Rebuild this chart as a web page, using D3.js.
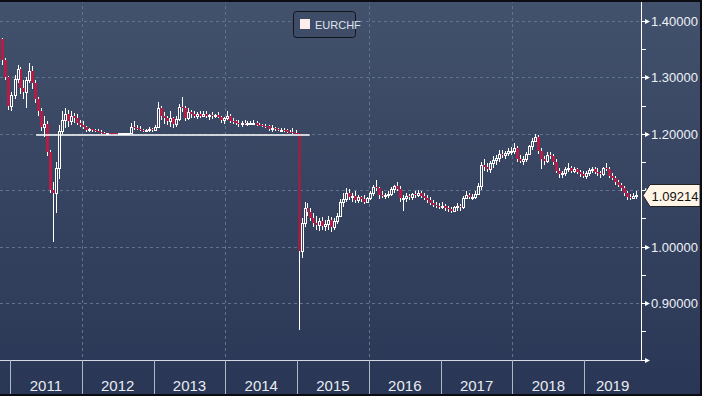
<!DOCTYPE html>
<html>
<head>
<meta charset="utf-8">
<script src="https://cdn.jsdelivr.net/npm/d3@7"></script>
<style>
  body { margin: 0; background: #2b3756; }
  svg { display: block; }
</style>
</head>
<body>
<div id="chart"></div>
<script>
var width = 702
var height = 396
var plotRight = 641
var plotBottom = 360

// half-month candles from 16 Nov 2010; open of each one is the previous close
var firstOpen = 1.368
var highs = [
  1.370, 1.335, 1.302, 1.275, 1.305, 1.322, 1.318, 1.295, 1.300, 1.325, 1.320, 1.295, 1.265, 1.245, 1.232, 1.222,
  1.172, 1.115, 1.150, 1.215, 1.240, 1.245, 1.243, 1.240, 1.237, 1.236, 1.225,
  1.222, 1.214, 1.210, 1.209, 1.208, 1.209, 1.206, 1.203, 1.202, 1.202, 1.2015, 1.2012, 1.2012, 1.2012, 1.2015, 1.2020,
  1.220, 1.222, 1.215, 1.213, 1.209, 1.208, 1.212, 1.211,
  1.215, 1.256, 1.250, 1.238, 1.232, 1.240, 1.230, 1.232, 1.252, 1.266, 1.250, 1.245, 1.242, 1.240, 1.238, 1.240,
  1.240, 1.240, 1.235, 1.238, 1.236, 1.238, 1.232, 1.230,
  1.240, 1.235, 1.228, 1.225, 1.225, 1.222, 1.225, 1.222, 1.222, 1.224, 1.223, 1.220, 1.218, 1.217, 1.216, 1.215,
  1.212, 1.210, 1.210, 1.211, 1.209, 1.206, 1.210, 1.206,
  1.2012, 1.050, 1.080, 1.078, 1.068, 1.060, 1.055, 1.050, 1.052, 1.048, 1.055, 1.052, 1.050, 1.060, 1.085, 1.095,
  1.104, 1.102, 1.096, 1.098, 1.092, 1.090, 1.092, 1.088,
  1.098, 1.110, 1.118, 1.106, 1.098, 1.096, 1.098, 1.106, 1.110, 1.114, 1.108, 1.092, 1.095, 1.094, 1.096, 1.098,
  1.100, 1.098, 1.096, 1.092, 1.088, 1.082, 1.080, 1.078,
  1.080, 1.076, 1.072, 1.070, 1.072, 1.078, 1.076, 1.090, 1.098, 1.096, 1.094, 1.098, 1.112, 1.150, 1.156, 1.148,
  1.152, 1.160, 1.162, 1.172, 1.172, 1.170, 1.175, 1.176,
  1.183, 1.178, 1.162, 1.160, 1.168, 1.180, 1.192, 1.200, 1.198, 1.175, 1.160, 1.168, 1.168, 1.164, 1.155, 1.140,
  1.135, 1.142, 1.148, 1.143, 1.142, 1.140, 1.136, 1.134,
  1.134, 1.140, 1.142, 1.142, 1.140, 1.135, 1.142, 1.148, 1.142, 1.130, 1.125, 1.118, 1.112, 1.108, 1.098, 1.094,
  1.096, 1.098
]
var lows = [
  1.322, 1.295, 1.242, 1.240, 1.262, 1.290, 1.270, 1.262, 1.245, 1.290, 1.280, 1.255, 1.232, 1.205, 1.195, 1.160,
  1.095, 1.008, 1.060, 1.120, 1.200, 1.210, 1.212, 1.215, 1.220, 1.215, 1.212,
  1.208, 1.203, 1.204, 1.203, 1.203, 1.203, 1.200, 1.200, 1.200, 1.200, 1.2000, 1.2002, 1.2005, 1.2005, 1.2008, 1.2008,
  1.2010, 1.207, 1.206, 1.205, 1.203, 1.203, 1.204, 1.204,
  1.205, 1.210, 1.225, 1.218, 1.215, 1.212, 1.210, 1.212, 1.222, 1.238, 1.222, 1.224, 1.228, 1.228, 1.226, 1.228,
  1.230, 1.228, 1.224, 1.227, 1.228, 1.228, 1.219, 1.218,
  1.225, 1.220, 1.218, 1.216, 1.212, 1.212, 1.215, 1.213, 1.215, 1.217, 1.214, 1.213, 1.212, 1.211, 1.205, 1.204,
  1.205, 1.205, 1.204, 1.203, 1.2015, 1.2008, 1.2005, 1.2005,
  0.852, 0.980, 1.035, 1.055, 1.045, 1.035, 1.030, 1.028, 1.030, 1.028, 1.030, 1.026, 1.030, 1.040, 1.052, 1.070,
  1.080, 1.082, 1.080, 1.078, 1.078, 1.080, 1.076, 1.078,
  1.082, 1.090, 1.098, 1.085, 1.086, 1.084, 1.086, 1.090, 1.096, 1.098, 1.080, 1.064, 1.080, 1.082, 1.082, 1.086,
  1.088, 1.086, 1.082, 1.078, 1.074, 1.070, 1.068, 1.066,
  1.066, 1.064, 1.062, 1.060, 1.062, 1.064, 1.064, 1.066, 1.084, 1.084, 1.082, 1.084, 1.092, 1.100, 1.135, 1.132,
  1.130, 1.140, 1.145, 1.150, 1.158, 1.155, 1.160, 1.162,
  1.165, 1.150, 1.148, 1.145, 1.150, 1.162, 1.172, 1.185, 1.165, 1.138, 1.145, 1.148, 1.155, 1.145, 1.130, 1.121,
  1.122, 1.125, 1.132, 1.130, 1.130, 1.128, 1.124, 1.122,
  1.120, 1.126, 1.130, 1.128, 1.126, 1.122, 1.126, 1.135, 1.122, 1.118, 1.110, 1.105, 1.098, 1.090, 1.082, 1.082,
  1.084, 1.085
]
var closes = [
  1.330, 1.300, 1.250, 1.268, 1.298, 1.315, 1.282, 1.275, 1.295, 1.312, 1.290, 1.262, 1.240, 1.212, 1.218, 1.168,
  1.100, 1.095, 1.140, 1.205, 1.225, 1.235, 1.222, 1.232, 1.228, 1.220, 1.215,
  1.212, 1.207, 1.208, 1.206, 1.205, 1.204, 1.202, 1.201, 1.2012, 1.2010, 1.2008, 1.2006, 1.2008, 1.2010, 1.2012, 1.2015,
  1.212, 1.210, 1.208, 1.207, 1.205, 1.206, 1.209, 1.207,
  1.212, 1.245, 1.232, 1.228, 1.222, 1.228, 1.218, 1.226, 1.248, 1.245, 1.228, 1.238, 1.235, 1.232, 1.236, 1.232,
  1.236, 1.231, 1.233, 1.232, 1.234, 1.230, 1.224, 1.228,
  1.232, 1.223, 1.222, 1.220, 1.217, 1.220, 1.218, 1.219, 1.220, 1.220, 1.216, 1.215, 1.214, 1.213, 1.208, 1.210,
  1.208, 1.207, 1.207, 1.206, 1.203, 1.2025, 1.2022, 1.2010,
  0.992, 1.042, 1.068, 1.062, 1.050, 1.042, 1.038, 1.045, 1.036, 1.040, 1.048, 1.034, 1.045, 1.055, 1.080, 1.085,
  1.096, 1.088, 1.090, 1.082, 1.088, 1.084, 1.080, 1.086,
  1.095, 1.105, 1.104, 1.092, 1.090, 1.092, 1.094, 1.103, 1.108, 1.102, 1.086, 1.086, 1.090, 1.088, 1.094, 1.092,
  1.096, 1.090, 1.086, 1.082, 1.077, 1.074, 1.072, 1.070,
  1.072, 1.068, 1.066, 1.064, 1.070, 1.072, 1.070, 1.086, 1.092, 1.088, 1.088, 1.094, 1.108, 1.145, 1.142, 1.138,
  1.148, 1.154, 1.158, 1.165, 1.162, 1.166, 1.170, 1.170,
  1.175, 1.155, 1.152, 1.156, 1.165, 1.178, 1.188, 1.195, 1.170, 1.155, 1.152, 1.162, 1.160, 1.150, 1.135, 1.128,
  1.130, 1.138, 1.140, 1.135, 1.138, 1.132, 1.128, 1.126,
  1.130, 1.136, 1.138, 1.133, 1.130, 1.128, 1.140, 1.138, 1.126, 1.122, 1.114, 1.110, 1.104, 1.096, 1.088, 1.086,
  1.090, 1.09214
]

var years = ["2011", "2012", "2013", "2014", "2015", "2016", "2017", "2018", "2019"]
var gridYears = [2012, 2014, 2016, 2018]
var majorTicks = [1.4, 1.3, 1.2, 1.1, 1.0, 0.9, 0.8]
var minorTicks = [1.35, 1.25, 1.15, 1.05, 0.95, 0.85]
var floorLevel = 1.2
var floorStart = new Date(2011, 4, 14)
var floorEnd = new Date(2015, 2, 6)
var seriesName = "EURCHF"

// half-month period starts
var periods = []
d3.timeMonth.range(new Date(2010, 10, 1), new Date(2019, 9, 1)).forEach(function (m) {
    periods.push(m, d3.timeDay.offset(m, 15))
})
periods = periods.slice(1)
var periodEnd = new Date(2019, 9, 1)

var candles = periods.map(function (d, i) {
    return {
        date: d,
        end: i + 1 < periods.length ? periods[i + 1] : periodEnd,
        open: i == 0 ? firstOpen : closes[i - 1],
        high: highs[i],
        low: lows[i],
        close: closes[i]
    }
})
var lastPrice = closes[closes.length - 1]

var x = d3.scaleTime()
    .domain([new Date(2010, 10, 11), new Date(2019, 9, 17)])
    .range([0, plotRight])
var y = d3.scaleLinear()
    .domain([0.8, 1.4])
    .range([359.5, 21])

var svg = d3.select('#chart')
    .append('svg')
    .attr('width', width)
    .attr('height', height)
    .style('font-family', '"Liberation Sans", Arial, sans-serif')

var defs = svg.append('defs')
var grad = defs.append('linearGradient')
    .attr('id', 'bg')
    .attr('x1', 0).attr('y1', 0).attr('x2', 0).attr('y2', 1)
grad.append('stop').attr('offset', '0%').attr('stop-color', '#42516c')
grad.append('stop').attr('offset', '100%').attr('stop-color', '#2a3655')
defs.append('clipPath').attr('id', 'plot')
    .append('rect').attr('x', 0).attr('y', 0).attr('width', plotRight).attr('height', plotBottom)

svg.append('rect')
    .attr('width', width)
    .attr('height', height)
    .attr('fill', 'url(#bg)')

// dashed grid
var grid = svg.append('g')
    .attr('stroke', '#61728e')
    .attr('stroke-dasharray', '3,3')
    .attr('shape-rendering', 'crispEdges')
grid.selectAll('.hg')
    .data(majorTicks.slice(0, 6))
    .enter()
    .append('line')
    .attr('x1', 0)
    .attr('x2', plotRight)
    .attr('y1', function (d) { return Math.round(y(d)) + 0.5 })
    .attr('y2', function (d) { return Math.round(y(d)) + 0.5 })
grid.selectAll('.vg')
    .data(gridYears)
    .enter()
    .append('line')
    .attr('x1', function (d) { return Math.round(x(new Date(d, 0, 1))) + 0.5 })
    .attr('x2', function (d) { return Math.round(x(new Date(d, 0, 1))) + 0.5 })
    .attr('y1', 0)
    .attr('y2', plotBottom)

// candles
var plot = svg.append('g')
    .attr('clip-path', 'url(#plot)')
    .attr('shape-rendering', 'crispEdges')

function px(d) { return Math.round((x(d.date) + x(d.end)) / 2) - 1 }

plot.selectAll('.wick')
    .data(candles)
    .enter()
    .append('line')
    .attr('x1', function (d) { return px(d) + 1.5 })
    .attr('x2', function (d) { return px(d) + 1.5 })
    .attr('y1', function (d) { return Math.round(y(d.high)) })
    .attr('y2', function (d) { return Math.round(y(d.low)) })
    .attr('stroke', '#ffffff')

plot.selectAll('.down')
    .data(candles.filter(function (d) { return d.close < d.open }))
    .enter()
    .append('rect')
    .attr('x', function (d) { return px(d) })
    .attr('width', 3)
    .attr('y', function (d) { return Math.round(y(d.open)) })
    .attr('height', function (d) { return Math.max(1, Math.round(y(d.close)) - Math.round(y(d.open))) })
    .attr('fill', function (d) { return d.open - d.close > 0.1 ? '#8f2447' : '#b51d47' })

plot.selectAll('.up')
    .data(candles.filter(function (d) { return d.close >= d.open }))
    .enter()
    .append('rect')
    .attr('x', function (d) { return px(d) + 0.5 })
    .attr('width', 2)
    .attr('y', function (d) { return Math.round(y(d.close)) + 0.5 })
    .attr('height', function (d) { return Math.max(1, Math.round(y(d.open)) - Math.round(y(d.close))) })
    .attr('fill', '#34425f')
    .attr('stroke', '#ffffff')

// SNB floor line
svg.append('line')
    .attr('x1', x(floorStart))
    .attr('x2', x(floorEnd))
    .attr('y1', Math.round(y(floorLevel)) + 1)
    .attr('y2', Math.round(y(floorLevel)) + 1)
    .attr('stroke', '#ffffff')
    .attr('stroke-width', 1.5)

// axes frame
svg.append('line')
    .attr('x1', 0).attr('x2', plotRight)
    .attr('y1', plotBottom + 0.5).attr('y2', plotBottom + 0.5)
    .attr('stroke', '#d4dae3')
svg.append('line')
    .attr('x1', plotRight + 0.5).attr('x2', plotRight + 0.5)
    .attr('y1', 0).attr('y2', plotBottom + 1)
    .attr('stroke', '#ffffff')

// right axis ticks
var ly = Math.round(y(lastPrice)) + 0.5
var axis = svg.append('g')
axis.selectAll('.minor')
    .data(minorTicks)
    .enter()
    .append('line')
    .attr('x1', plotRight)
    .attr('x2', plotRight + 5)
    .attr('y1', function (d) { return Math.round(y(d)) + 0.5 })
    .attr('y2', function (d) { return Math.round(y(d)) + 0.5 })
    .attr('stroke', '#ffffff')
axis.selectAll('.major')
    .data(majorTicks)
    .enter()
    .append('path')
    .attr('d', function (d) {
        var yy = Math.round(y(d)) + 0.5
        return 'M' + plotRight + ',' + (yy - 0.5) + 'H645V' + (yy - 2.5) + 'L650,' + yy + 'L645,' + (yy + 2.5) + 'V' + (yy + 0.5) + 'H' + plotRight + 'Z'
    })
    .attr('fill', '#ffffff')
// labels hidden by the last price flag are not drawn
axis.selectAll('.lbl')
    .data(majorTicks.slice(0, 6).filter(function (d) { return Math.abs(y(d) - ly) > 14 }))
    .enter()
    .append('text')
    .attr('x', 651)
    .attr('y', function (d) { return y(d) + 5 })
    .attr('fill', '#eef2f7')
    .style('font-size', '13px')
    .text(function (d) { return d3.format('.5f')(d) })

// last price flag
svg.append('path')
    .attr('d', 'M643,' + ly + 'L650,' + (ly - 11) + 'H700V' + (ly + 11) + 'H650Z')
    .attr('fill', '#fff5e6')
    .attr('stroke', '#222222')
svg.append('text')
    .attr('x', 675)
    .attr('y', ly + 5)
    .attr('text-anchor', 'middle')
    .attr('fill', '#111111')
    .style('font-size', '13px')
    .text(d3.format('.5f')(lastPrice))

// year band
var band = svg.append('g').attr('shape-rendering', 'crispEdges')
band.selectAll('.sep')
    .data(years)
    .enter()
    .append('line')
    .attr('x1', function (d) { return Math.round(x(new Date(+d, 0, 1))) + 0.5 })
    .attr('x2', function (d) { return Math.round(x(new Date(+d, 0, 1))) + 0.5 })
    .attr('y1', plotBottom)
    .attr('y2', height)
    .attr('stroke', '#aeb8c6')
band.selectAll('.yr')
    .data(years)
    .enter()
    .append('text')
    .attr('x', function (d) {
        var a = x(new Date(+d, 0, 1))
        var b = Math.min(plotRight, x(new Date(+d + 1, 0, 1)))
        return (a + b) / 2
    })
    .attr('y', 391)
    .attr('text-anchor', 'middle')
    .attr('fill', '#e8edf3')
    .style('font-family', '"Liberation Sans Narrow", "Liberation Sans", sans-serif')
    .style('font-size', '15px')
    .text(function (d) { return d })

// legend
var legend = svg.append('g')
legend.append('rect')
    .attr('x', 293.5).attr('y', 11.5)
    .attr('width', 62).attr('height', 26)
    .attr('rx', 3)
    .attr('fill', '#3e4c68')
    .attr('stroke', '#111418')
legend.append('rect')
    .attr('x', 300).attr('y', 19)
    .attr('width', 10).attr('height', 10)
    .attr('fill', '#fdeeec')
legend.append('text')
    .attr('x', 315).attr('y', 29)
    .attr('fill', '#dfe5ec')
    .style('font-family', '"Liberation Sans Narrow", "Liberation Sans", sans-serif')
    .style('font-size', '11px')
    .text(seriesName)

// outer dark edges
svg.append('rect').attr('x', 0).attr('y', 0).attr('width', width).attr('height', 2).attr('fill', '#0b0d12')
svg.append('rect').attr('x', width - 2).attr('y', 0).attr('width', 2).attr('height', height).attr('fill', '#0b0d12')
svg.append('rect').attr('x', 0).attr('y', height - 2).attr('width', width).attr('height', 2).attr('fill', '#0b0d12')
</script>
</body>
</html>
